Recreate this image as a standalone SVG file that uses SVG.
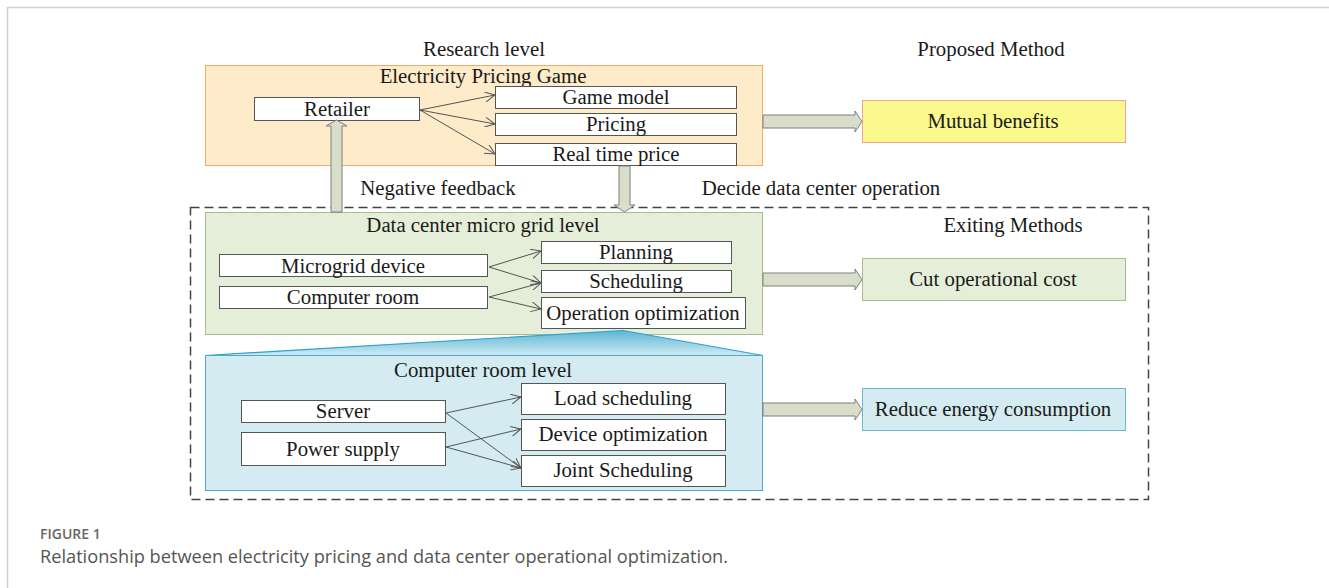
<svg xmlns="http://www.w3.org/2000/svg" width="1329" height="588" viewBox="0 0 1329 588">
<defs>
<style>
text{font-family:"Liberation Serif","Times New Roman",serif;font-size:20.8px;fill:#1a1a1a;text-anchor:middle;dominant-baseline:central}
.wb{fill:#fff;stroke:#555;stroke-width:1}
.blk{fill:#d8dec9;stroke:#7f7f7f;stroke-width:1}
.ln{stroke:#555;stroke-width:1;fill:none;marker-end:url(#ah)}
.cap{font-family:"Open Sans","Noto Sans",sans-serif;text-anchor:start;dominant-baseline:auto;fill:#555}
</style>
<marker id="ah" viewBox="0 0 10 10" refX="10" refY="5" markerWidth="10" markerHeight="10" markerUnits="userSpaceOnUse" orient="auto">
<path d="M0,0 L10,5 L0,10" fill="none" stroke="#555" stroke-width="1"/>
</marker>
<linearGradient id="trap" x1="0" y1="0" x2="0" y2="1">
<stop offset="0" stop-color="#5bb6d6"/>
<stop offset="1" stop-color="#cfeaf2"/>
</linearGradient>
</defs>
<rect x="0" y="0" width="1329" height="588" fill="#fff"/>
<path d="M7.5,588 V7.5 H1329" fill="none" stroke="#cfcfcf" stroke-width="1.5"/>

<g id="headers">
<text x="484" y="48">Research level</text>
<text x="991" y="48">Proposed Method</text>
<text x="438" y="187">Negative feedback</text>
<text x="821" y="187">Decide data center operation</text>
<text x="1013" y="224">Exiting Methods</text>
</g>

<g id="existing-frame">
<rect x="190.5" y="207.5" width="958" height="292" fill="none" stroke="#444" stroke-width="1.5" stroke-dasharray="9,5"/>
</g>

<g id="pricing-game">
<rect x="205.5" y="65.5" width="557" height="100" fill="#fdebc9" stroke="#f7a864" stroke-width="1"/>
<text x="483" y="75">Electricity Pricing Game</text>
</g>
<g id="retailer"><rect class="wb" x="254.5" y="97.5" width="165" height="23"/><text x="337" y="108">Retailer</text></g>
<g id="game-model"><rect class="wb" x="495.5" y="86.5" width="241" height="22"/><text x="616" y="96.5">Game model</text></g>
<g id="pricing"><rect class="wb" x="495.5" y="113.5" width="241" height="22"/><text x="616" y="123.5">Pricing</text></g>
<g id="real-time-price"><rect class="wb" x="495.5" y="143.5" width="241" height="22"/><text x="616" y="153.5">Real time price</text></g>

<g id="microgrid-level">
<rect x="205.5" y="212.5" width="557" height="122" fill="#e5eed9" stroke="#a7bd8c" stroke-width="1"/>
<text x="483" y="224">Data center micro grid level</text>
</g>
<g id="microgrid-device"><rect class="wb" x="219.5" y="254.5" width="268" height="22"/><text x="353" y="265">Microgrid device</text></g>
<g id="computer-room"><rect class="wb" x="219.5" y="286.5" width="268" height="22"/><text x="353" y="296.5">Computer room</text></g>
<g id="planning"><rect class="wb" x="541.5" y="241.5" width="190" height="22"/><text x="636" y="251.5">Planning</text></g>
<g id="scheduling"><rect class="wb" x="541.5" y="270.5" width="190" height="22"/><text x="636" y="280.5">Scheduling</text></g>
<g id="operation-optimization"><rect class="wb" x="541.5" y="297.5" width="204" height="31"/><text x="643" y="312.5">Operation optimization</text></g>

<g id="zoom-wedge">
<path d="M205,355.5 L623,330.5 L763,355.5 Z" fill="url(#trap)" stroke="#2e9fcf" stroke-width="1.2"/>
</g>

<g id="computer-room-level">
<rect x="205.5" y="355.5" width="557" height="135" fill="#d3ebf1" stroke="#4aa9cd" stroke-width="1"/>
<text x="483" y="369.5">Computer room level</text>
</g>
<g id="server"><rect class="wb" x="241.5" y="400.5" width="204" height="22"/><text x="343" y="410.5">Server</text></g>
<g id="power-supply"><rect class="wb" x="241.5" y="432.5" width="204" height="33"/><text x="343" y="448.5">Power supply</text></g>
<g id="load-scheduling"><rect class="wb" x="521.5" y="383.5" width="204" height="31"/><text x="623" y="397.5">Load scheduling</text></g>
<g id="device-optimization"><rect class="wb" x="521.5" y="419.5" width="204" height="31"/><text x="623" y="433.5">Device optimization</text></g>
<g id="joint-scheduling"><rect class="wb" x="521.5" y="455.5" width="204" height="31"/><text x="623" y="469.5">Joint Scheduling</text></g>

<g id="mutual-benefits"><rect x="862.5" y="100.5" width="263" height="42" fill="#fbf98c" stroke="#eea3a0" stroke-width="1"/><text x="993" y="120.5">Mutual benefits</text></g>
<g id="cut-cost"><rect x="862.5" y="258.5" width="263" height="42" fill="#e5eed9" stroke="#a7bd8c" stroke-width="1"/><text x="993" y="278.5">Cut operational cost</text></g>
<g id="reduce-energy"><rect x="862.5" y="388.5" width="263" height="42" fill="#d3ebf1" stroke="#6db7d0" stroke-width="1"/><text x="993" y="408.5">Reduce energy consumption</text></g>

<g id="connectors">
<path class="ln" d="M420,110 L495,95"/>
<path class="ln" d="M420,110 L495,124"/>
<path class="ln" d="M420,110 L495,154"/>
<path class="ln" d="M489,267 L541,251"/>
<path class="ln" d="M489,267 L541,283"/>
<path class="ln" d="M489,297 L541,283"/>
<path class="ln" d="M489,297 L541,309"/>
<path class="ln" d="M446,413 L521,397"/>
<path class="ln" d="M446,413 L521,468"/>
<path class="ln" d="M446,447 L521,429"/>
<path class="ln" d="M446,447 L521,468"/>
<path class="blk" d="M331,212 V126 H326 L336.5,120 L347,126 H342 V212 Z"/>
<path class="blk" d="M619,166 V205 H614 L624.5,212 L635,205 H630 V166 Z"/>
<path class="blk" d="M763,115 H855 V111 L862,121.5 L855,132 V128 H763 Z"/>
<path class="blk" d="M763,273 H855 V269 L862,279.5 L855,290 V286 H763 Z"/>
<path class="blk" d="M763,403 H855 V399 L862,409.5 L855,420 V416 H763 Z"/>
</g>

<g id="caption">
<text class="cap" x="40" y="539" style="font-size:14px;font-weight:600;fill:#666">FIGURE 1</text>
<text class="cap" x="40" y="563" style="font-size:18.2px;fill:#555">Relationship between electricity pricing and data center operational optimization.</text>
</g>
</svg>
